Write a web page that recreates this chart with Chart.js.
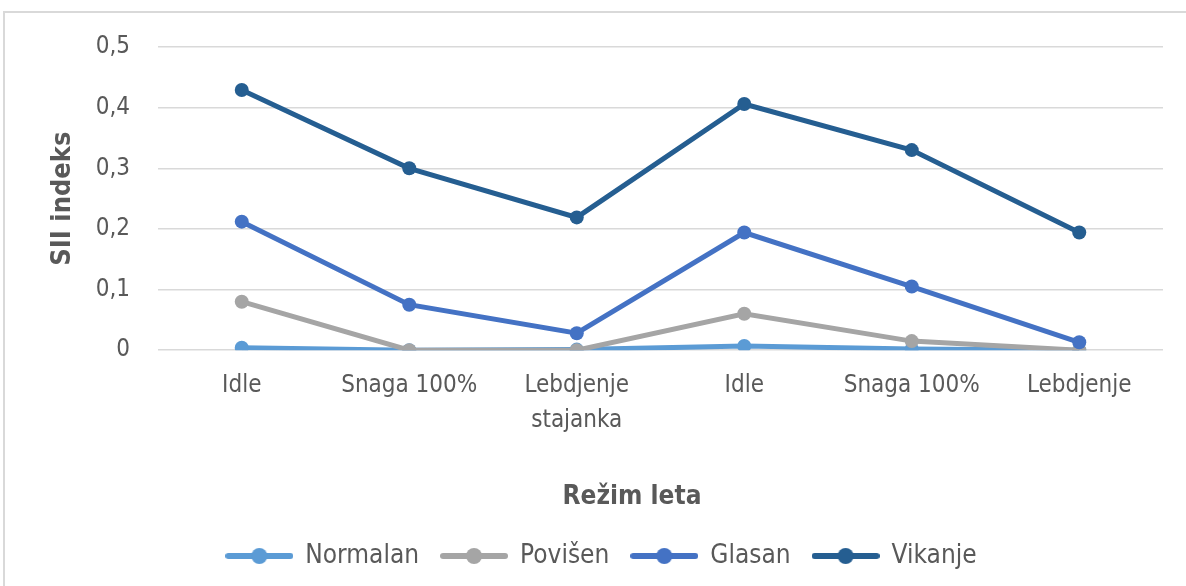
<!DOCTYPE html>
<html>
<head>
<meta charset="utf-8">
<script src="https://cdn.jsdelivr.net/npm/chart.js@4.4.1/dist/chart.umd.min.js"></script>
<style>
  html, body { margin: 0; padding: 0; background: #fff; }
  #wrap { width: 1186px; height: 586px; position: relative; }
</style>
</head>
<body>
<div id="wrap"><canvas id="siiChart"></canvas></div>
<script>
// ---- Data ----
const categories = ['Idle', 'Snaga 100%', ['Lebdjenje', 'stajanka'], 'Idle', 'Snaga 100%', 'Lebdjenje'];
const seriesNames = ['Normalan', 'Povišen', 'Glasan', 'Vikanje'];
const normalan = [0.004, 0.0, 0.001, 0.007, 0.002, 0.0];
const povisen = [0.080, 0.0, 0.0, 0.060, 0.015, 0.0];
const glasan = [0.212, 0.075, 0.028, 0.194, 0.105, 0.013];
const vikanje = [0.429, 0.300, 0.219, 0.406, 0.330, 0.194];
const yTicks = [0, 0.1, 0.2, 0.3, 0.4, 0.5];

const colors = ['#5B9BD5', '#A5A5A5', '#4472C4', '#255E91'];
const FONT = '"Liberation Sans Narrow", "DejaVu Sans Condensed", sans-serif';
const TEXT = '#595959';

// legend marker: line with a dot in the middle
function makeMarker(color) {
    const c = document.createElement('canvas');
    c.width = 68; c.height = 18;
    const g = c.getContext('2d');
    g.strokeStyle = color; g.lineWidth = 6; g.lineCap = 'round';
    g.beginPath(); g.moveTo(3, 9); g.lineTo(65, 9); g.stroke();
    g.fillStyle = color;
    g.beginPath(); g.arc(34, 9, 8, 0, Math.PI * 2); g.fill();
    return c;
}
const markers = colors.map(makeMarker);

// frame lines (top and left edge of the original chart box)
const framePlugin = {
    id: 'frame',
    beforeDraw(chart) {
        const ctx = chart.ctx;
        ctx.save();
        ctx.strokeStyle = '#d9d9d9';
        ctx.lineWidth = 2;
        ctx.beginPath();
        ctx.moveTo(4, chart.height);
        ctx.lineTo(4, 12);
        ctx.lineTo(chart.width, 12);
        ctx.stroke();
        ctx.restore();
    }
};

const allSeries = [normalan, povisen, glasan, vikanje];
const datasets = allSeries.map((vals, i) => ({
    label: seriesNames[i],
    data: vals,
    borderColor: colors[i],
    backgroundColor: colors[i],
    borderWidth: 5,
    pointRadius: 7,
    pointHoverRadius: 7,
    pointBorderWidth: 0,
    tension: 0,
    order: 4 - i
}));

new Chart(document.getElementById('siiChart'), {
    type: 'line',
    data: { labels: categories, datasets: datasets },
    plugins: [framePlugin],
    options: {
        responsive: true,
        maintainAspectRatio: false,
        animation: false,
        layout: { padding: { left: 40, right: 23, top: 47, bottom: 7 } },
        plugins: {
            tooltip: { enabled: false },
            legend: {
                position: 'bottom',
                labels: {
                    usePointStyle: true,
                    pointStyleWidth: 66,
                    color: TEXT,
                    font: { family: FONT, size: 26 },
                    padding: 22,
                    generateLabels(chart) {
                        return chart.data.datasets.map((ds, i) => ({
                            text: ds.label,
                            fillStyle: ds.backgroundColor,
                            strokeStyle: ds.borderColor,
                            fontColor: TEXT,
                            pointStyle: markers[i],
                            datasetIndex: i,
                            hidden: false,
                            lineWidth: 0
                        }));
                    }
                }
            }
        },
        scales: {
            x: {
                offset: true,
                grid: { display: false },
                border: { display: false },
                ticks: { color: TEXT, font: { family: FONT, size: 24, lineHeight: 1.45 }, padding: 10, maxRotation: 0, autoSkip: false },
                title: {
                    display: true,
                    text: 'Režim leta' + '\u00a0'.repeat(7),
                    color: TEXT,
                    font: { family: FONT, size: 26, weight: 'bold' },
                    padding: { top: 34, bottom: 8 }
                }
            },
            y: {
                min: 0,
                max: 0.5,
                afterBuildTicks(scale) { scale.ticks = yTicks.map(v => ({ value: v })); },
                afterFit(scale) { scale.width = 118; },
                grid: { color: '#d9d9d9', lineWidth: 1.5, drawTicks: false },
                border: { display: false },
                ticks: {
                    color: TEXT,
                    font: { family: FONT, size: 24 },
                    padding: 28,
                    callback: v => String(Math.round(v * 10) / 10).replace('.', ',')
                },
                title: { display: true, text: 'SII indeks', color: TEXT, font: { family: FONT, size: 27, weight: 'bold' }, padding: { top: 7, bottom: 0 } }
            }
        }
    }
});
</script>
</body>
</html>
